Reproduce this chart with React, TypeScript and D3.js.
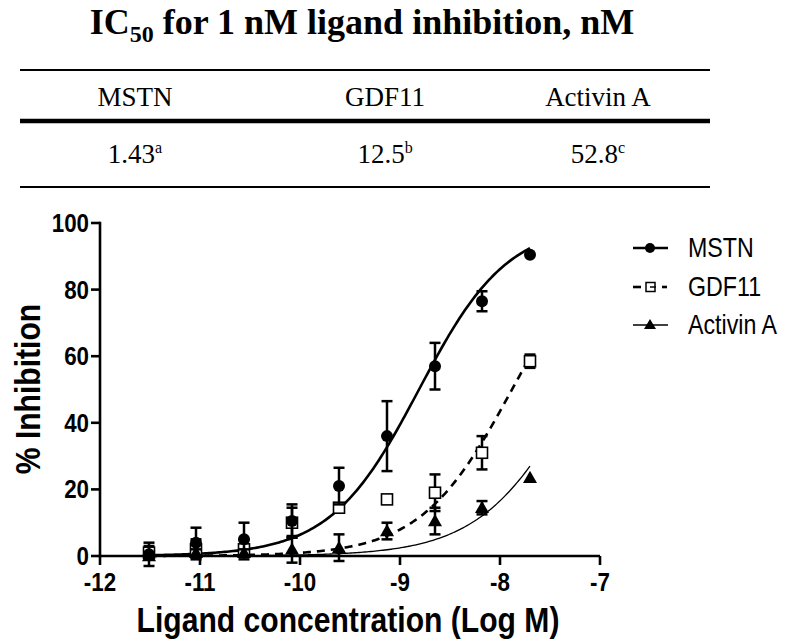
import React from "react";
import * as d3 from "d3";

// ---- data ----
const logConc = [-11.51, -11.04, -10.56, -10.08, -9.61, -9.13, -8.65, -8.18, -7.7];
const seriesNames = ["MSTN", "GDF11", "Activin A"];
const mstnMean = [0.5, 4, 5, 10.5, 21, 36, 57, 76.5, 90.5];
const mstnErr = [3.5, 4.5, 5, 5, 5.5, 10.5, 7, 3, 0];
const gdf11Mean = [1, 2, 2, 10, 14.5, 17, 19, 31, 58.5];
const gdf11Err = [2, 3, 3, 4.5, 0, 0, 5.5, 5, 2];
const activinMean = [0, 1, 1, 2, 2.5, 7.5, 10.5, 14.5, 23.5];
const activinErr = [0, 1, 1, 4, 4, 2.5, 4, 2, 0];
// fitted 4PL parameters (bottom 0, top 100)
const fitLogIC50 = [-8.81, -7.88, -7.22];
const fitHill = [0.98, 0.95, 0.9];

const xTicks = [-12, -11, -10, -9, -8, -7];
const yTicks = [0, 20, 40, 60, 80, 100];

const tableHeaders = ["MSTN", "GDF11", "Activin A"];
const tableValues = ["1.43", "12.5", "52.8"];
const tableSups = ["a", "b", "c"];

const W = 800;
const H = 641;
const SANS = "'Liberation Sans', Arial, Helvetica, sans-serif";
const SERIF = "'Liberation Serif', 'Times New Roman', serif";
const SQ = 0.86;

export default function App() {
  const x = d3.scaleLinear().domain([-12, -7]).range([100, 600]);
  const y = d3.scaleLinear().domain([0, 100]).range([556, 223]);

  const means = [mstnMean, gdf11Mean, activinMean];
  const errs = [mstnErr, gdf11Err, activinErr];

  const curveX = d3.range(-11.51, -7.699, 0.02).concat([-7.7]);

  const curvePath = (s: number) =>
    d3
      .line<number>()
      .x((d) => x(d))
      .y((d) => y(100 / (1 + Math.pow(10, fitHill[s] * (fitLogIC50[s] - d)))))(curveX) || "";

  const curveStyles = [
    { w: 2.6, dash: undefined as string | undefined },
    { w: 2.6, dash: "8,6" },
    { w: 1.3, dash: undefined as string | undefined },
  ];

  const marker = (s: number, cx: number, cy: number, key: string) => {
    if (s === 0) return <circle key={key} cx={cx} cy={cy} r={6} fill="#000" />;
    if (s === 1)
      return (
        <rect key={key} x={cx - 5.5} y={cy - 5.5} width={11} height={11} fill="#fff" stroke="#000" strokeWidth={1.6} />
      );
    const sz = 7;
    return (
      <path
        key={key}
        d={`M${cx},${cy - sz} L${cx + sz},${cy + sz * 0.75} L${cx - sz},${cy + sz * 0.75} Z`}
        fill="#000"
      />
    );
  };

  const sqText = (
    tx: number,
    ty: number,
    txt: string,
    size: number,
    anchor: string,
    weight: string,
    key?: string,
    rotate?: number
  ) => (
    <g key={key} transform={`translate(${tx},${ty})${rotate ? ` rotate(${rotate})` : ""} scale(${SQ},1)`}>
      <text x={0} y={0} fontFamily={SANS} fontSize={size} fontWeight={weight} textAnchor={anchor as any}>
        {txt}
      </text>
    </g>
  );

  const tableX = [135, 385, 598];
  const legendY = [248, 287, 325];
  const drawOrder = [1, 2, 0];

  return (
    <svg width={W} height={H} style={{ display: "block", position: "absolute", left: 0, top: 0 }}>
      <rect width={W} height={H} fill="#fff" />
      {/* title */}
      <text x={362} y={34} fontFamily={SERIF} fontSize={36} fontWeight="bold" textAnchor="middle">
        IC
        <tspan fontSize={24} dy={8}>
          50
        </tspan>
        <tspan dy={-8}> for 1 nM ligand inhibition, nM</tspan>
      </text>
      {/* table */}
      <line x1={20} x2={710} y1={70} y2={70} stroke="#000" strokeWidth={2} />
      <line x1={20} x2={710} y1={121} y2={121} stroke="#000" strokeWidth={4.5} />
      <line x1={20} x2={710} y1={187} y2={187} stroke="#000" strokeWidth={2} />
      {tableHeaders.map((h, i) => (
        <text key={h} x={tableX[i]} y={106} fontFamily={SERIF} fontSize={27} textAnchor="middle">
          {h}
        </text>
      ))}
      {tableValues.map((v, i) => (
        <text key={v} x={tableX[i]} y={163} fontFamily={SERIF} fontSize={27} textAnchor="middle">
          {v}
          <tspan fontSize={16} dy={-10}>
            {tableSups[i]}
          </tspan>
        </text>
      ))}

      {/* curves */}
      {[0, 1, 2].map((s) => (
        <path
          key={"c" + s}
          d={curvePath(s)}
          fill="none"
          stroke="#000"
          strokeWidth={curveStyles[s].w}
          strokeDasharray={curveStyles[s].dash}
        />
      ))}

      {/* axes */}
      <line x1={x(-12)} x2={x(-7)} y1={y(0)} y2={y(0)} stroke="#000" strokeWidth={2.6} />
      <line x1={x(-12)} x2={x(-12)} y1={y(0) + 1.3} y2={y(100) - 1.3} stroke="#000" strokeWidth={2.6} />
      {xTicks.map((t) => (
        <g key={"xt" + t}>
          <line x1={x(t)} x2={x(t)} y1={y(0)} y2={y(0) + 9} stroke="#000" strokeWidth={2.6} />
          {sqText(x(t), 591, String(t), 26, "middle", "bold")}
        </g>
      ))}
      {yTicks.map((t) => (
        <g key={"yt" + t}>
          <line x1={x(-12) - 9} x2={x(-12)} y1={y(t)} y2={y(t)} stroke="#000" strokeWidth={2.6} />
          {sqText(89, y(t) + 9, String(t), 26, "end", "bold")}
        </g>
      ))}
      {sqText(348, 632, "Ligand concentration (Log M)", 35, "middle", "bold")}
      {sqText(40, 389, "% Inhibition", 35, "middle", "bold", undefined, -90)}

      {/* error bars and markers */}
      {drawOrder.map((s) => (
        <g key={"s" + s}>
          {logConc.map((c, i) => {
            const m = means[s][i];
            const e = errs[s][i];
            if (e <= 0) return null;
            const cx = x(c);
            return (
              <g key={i}>
                <line x1={cx} x2={cx} y1={y(m - e)} y2={y(m + e)} stroke="#000" strokeWidth={2.5} />
                <line x1={cx - 5.5} x2={cx + 5.5} y1={y(m + e)} y2={y(m + e)} stroke="#000" strokeWidth={2.5} />
                <line x1={cx - 5.5} x2={cx + 5.5} y1={y(m - e)} y2={y(m - e)} stroke="#000" strokeWidth={2.5} />
              </g>
            );
          })}
          {logConc.map((c, i) => marker(s, x(c), y(means[s][i]), "m" + i))}
        </g>
      ))}

      {/* legend */}
      {seriesNames.map((n, s) => (
        <g key={"lg" + s}>
          {s === 1 ? (
            <g>
              <line x1={633} x2={641} y1={legendY[s]} y2={legendY[s]} stroke="#000" strokeWidth={2.6} />
              <line x1={662} x2={667} y1={legendY[s]} y2={legendY[s]} stroke="#000" strokeWidth={2.6} />
              <rect x={646} y={legendY[s] - 4.5} width={9} height={9} fill="#fff" stroke="#000" strokeWidth={1.5} />
              <line x1={650} x2={656} y1={legendY[s]} y2={legendY[s]} stroke="#000" strokeWidth={1.5} />
            </g>
          ) : (
            <g>
              <line
                x1={633}
                x2={668}
                y1={legendY[s]}
                y2={legendY[s]}
                stroke="#000"
                strokeWidth={curveStyles[s].w}
              />
              {s === 0 ? (
                <circle cx={650} cy={legendY[s]} r={5} fill="#000" />
              ) : (
                <path
                  d={`M650,${legendY[s] - 6} L656,${legendY[s] + 4} L644,${legendY[s] + 4} Z`}
                  fill="#000"
                />
              )}
            </g>
          )}
          {sqText(688, legendY[s] + 9, n, 27, "start", "normal")}
        </g>
      ))}
    </svg>
  );
}
